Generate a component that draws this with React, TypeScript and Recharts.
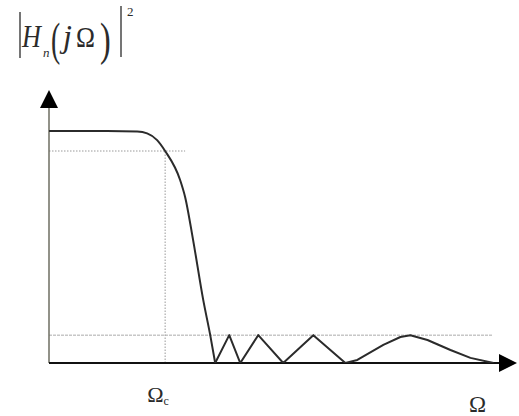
import React from 'react';
import { LineChart, Line, XAxis, YAxis, ReferenceLine, ReferenceDot } from 'recharts';

// normalised frequency (Ω / Ωc) and squared magnitude: passband + transition
const bandOmega = [0, 0.5, 0.76, 0.845, 0.931, 1.0, 1.129, 1.172, 1.241, 1.328, 1.388, 1.431];
const bandMag = [1, 1, 0.998, 0.99, 0.961, 0.914, 0.789, 0.716, 0.53, 0.272, 0.121, 0];

// equiripple stopband
const stopOmega = [
  1.431, 1.552, 1.647, 1.802, 2.017, 2.276, 2.552, 2.655, 2.879, 3.026, 3.112,
  3.259, 3.457, 3.629, 3.828,
];
const stopMag = [0, 0.12, 0, 0.12, 0, 0.12, 0, 0.013, 0.078, 0.112, 0.12, 0.099, 0.056, 0.022, 0];

const passEdge = 0.914; // 1/(1+ε²)
const stopLevel = 0.12;
const xTicks = [1, 3.69];
const xMax = 4.03;
const yMax = 1.177;

const bandData = bandOmega.map((w, i) => ({ w, h: bandMag[i] }));
const stopData = stopOmega.map((w, i) => ({ w, h: stopMag[i] }));

const serif = '"Liberation Serif", "DejaVu Serif", serif';
const ink = '#2b2b2b';

function OmegaTick(props: any) {
  const { x, y, payload } = props;
  if (payload.value === 1) {
    return (
      <text x={x - 18} y={y + 31} fontFamily={serif} fontSize={22} fill={ink}>
        Ω<tspan fontSize={12} dy={3}>c</tspan>
      </text>
    );
  }
  return (
    <text x={x} y={y + 41} textAnchor="middle" fontFamily={serif} fontSize={23} fill={ink}>
      Ω
    </text>
  );
}

const upArrow = (p: any) => (
  <polygon points={`${p.cx},${p.cy} ${p.cx - 9},${p.cy + 18} ${p.cx + 9},${p.cy + 18}`} fill="#000" />
);
const rightArrow = (p: any) => (
  <polygon points={`${p.cx},${p.cy} ${p.cx - 18},${p.cy - 9} ${p.cx - 18},${p.cy + 9}`} fill="#000" />
);

function Title() {
  return (
    <svg width={180} height={70} style={{ position: 'absolute', left: 0, top: 0 }}>
      <g fontFamily={serif} fill={ink}>
        <line x1={20} y1={12} x2={20} y2={58} stroke={ink} strokeWidth={1.3} />
        <text x={22} y={47} fontSize={32} fontStyle="italic" transform="translate(22 0) scale(0.82 1) translate(-22 0)">H</text>
        <text x={43} y={57} fontSize={13} fontStyle="italic">n</text>
        <text x={51} y={55} fontSize={46} transform="translate(51 0) scale(0.6 1) translate(-51 0)">(</text>
        <text x={63} y={47} fontSize={32} fontStyle="italic">j</text>
        <text x={76} y={47} fontSize={30} transform="translate(76 0) scale(0.85 1) translate(-76 0)">Ω</text>
        <text x={100} y={55} fontSize={46} transform="translate(100 0) scale(0.7 1) translate(-100 0)">)</text>
        <line x1={121} y1={6} x2={121} y2={57} stroke={ink} strokeWidth={1.3} />
        <text x={127} y={16} fontSize={13}>2</text>
      </g>
    </svg>
  );
}

export default function App() {
  return (
    <div style={{ position: 'absolute', left: 0, top: 0, width: 519, height: 416, background: '#fff' }}>
      <LineChart width={519} height={416} margin={{ top: 90, right: 2, bottom: 0, left: 49 }}>
        <XAxis
          dataKey="w"
          type="number"
          domain={[0, xMax]}
          ticks={xTicks}
          tick={<OmegaTick />}
          axisLine={false}
          tickLine={false}
          height={53}
          allowDataOverflow
        />
        <YAxis type="number" domain={[0, yMax]} hide allowDataOverflow />
        <ReferenceLine
          segment={[{ x: 0, y: passEdge }, { x: 1.172, y: passEdge }]}
          stroke="#999"
          strokeDasharray="1.5 1.5"
          ifOverflow="visible"
        />
        <ReferenceLine
          segment={[{ x: 1, y: 0 }, { x: 1, y: passEdge }]}
          stroke="#999"
          strokeDasharray="1.5 1.5"
          ifOverflow="visible"
        />
        <ReferenceLine
          segment={[{ x: 0, y: stopLevel }, { x: 3.816, y: stopLevel }]}
          stroke="#aaa"
          strokeDasharray="3 1"
          ifOverflow="visible"
        />
        <ReferenceLine
          segment={[{ x: 0, y: 0 }, { x: 0, y: 1.1 }]}
          stroke="#6e6e62"
          strokeWidth={1.5}
          ifOverflow="visible"
        />
        <ReferenceLine
          segment={[{ x: 0, y: 0 }, { x: 3.95, y: 0 }]}
          stroke="#111"
          strokeWidth={2}
          ifOverflow="visible"
        />
        <ReferenceDot x={0} y={yMax} r={0} shape={upArrow} ifOverflow="visible" />
        <ReferenceDot x={xMax} y={0} r={0} shape={rightArrow} ifOverflow="visible" />
        <Line
          data={bandData}
          type="monotone"
          dataKey="h"
          stroke={ink}
          strokeWidth={2}
          dot={false}
          isAnimationActive={false}
        />
        <Line
          data={stopData}
          type="linear"
          dataKey="h"
          stroke={ink}
          strokeWidth={2}
          strokeLinejoin="round"
          dot={false}
          isAnimationActive={false}
        />
      </LineChart>
      <Title />
    </div>
  );
}
